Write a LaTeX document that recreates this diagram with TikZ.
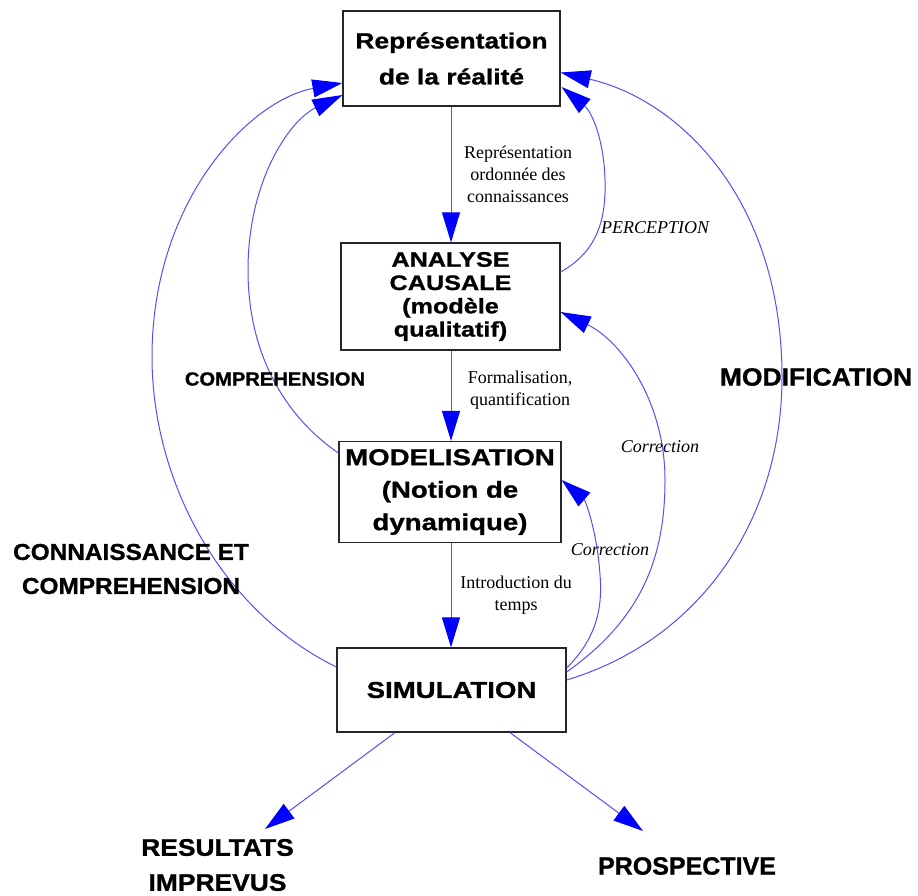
\documentclass[tikz,border=0pt]{standalone}
\usepackage{fontspec}
\setmainfont{Liberation Serif}
\newfontfamily\boxfont[FakeStretch=1.2,FakeBold=1]{Liberation Sans}
\newfontfamily\lblfont[FakeStretch=1.06,FakeBold=1]{Liberation Sans}
\newfontfamily\resfont[FakeStretch=1.1,FakeBold=1]{Liberation Sans}
\newfontfamily\prosfont[FakeStretch=1.0,FakeBold=1]{Liberation Sans}
\usetikzlibrary{arrows.meta,calc}
\definecolor{linkblue}{RGB}{80,80,250}
\definecolor{headblue}{RGB}{0,0,255}
\tikzset{
  box/.style={draw=black!85, line width=1.2pt, fill=white, inner sep=0pt, align=center},
  link/.style={draw=linkblue, line width=1pt, -{Triangle[length=30pt,width=18pt,color=headblue]}},
  note/.style={font=\fontsize{18}{22}\selectfont, align=center, inner sep=0pt},
  inote/.style={font=\itshape\fontsize{18}{22}\selectfont, inner sep=0pt},
  biglbl/.style={font=\lblfont\bfseries\fontsize{23}{34}\selectfont, align=center, inner sep=0pt},
}
\begin{document}
\begin{tikzpicture}[x=1pt,y=-1pt]
\fill[white] (0,0) rectangle (918,896);
\useasboundingbox (0,0) rectangle (918,896);

% boxes
\node[box, minimum width=217pt, minimum height=95pt,
  font=\boxfont\bfseries\fontsize{22}{36}\selectfont] (top) at (451.5,58.5) {Représentation\\de la réalité};
\node[box, minimum width=219pt, minimum height=107pt,
  font=\boxfont\bfseries\fontsize{21}{23.3}\selectfont] (ana) at (450.5,296.5) {ANALYSE\\CAUSALE\\(modèle\\qualitatif)};
\node[box, minimum width=222pt, minimum height=101pt,
  font=\boxfont\bfseries\fontsize{23}{32.5}\selectfont] (mod) at (450,492) {MODELISATION\\(Notion de\\dynamique)};
\node[box, minimum width=229pt, minimum height=84pt,
  font=\boxfont\bfseries\fontsize{23}{26}\selectfont] (sim) at (451.5,690) {SIMULATION};

% straight arrows
\draw[link] (top.south -| 451,0) -- (ana.north -| 451,0);
\draw[link] (ana.south -| 451,0) -- (mod.north -| 451,0);
\draw[link] (mod.south -| 451,0) -- (sim.north -| 451,0);

% left curves
\draw[link] ($(sim.west)+(0,-23)$) .. controls (220,610) and (152,480) .. (152,357)
  .. controls (152,200) and (250,100) .. ($(top.west)+(0,24.5)$);
\draw[link] ($(mod.west)+(0,-39)$) .. controls (290,420) and (248,360) .. (248,270)
  .. controls (248,180) and (290,120) .. ($(top.west)+(0,36.5)$);

% right curves
\draw[link] ($(ana.east)+(0,-24.5)$) .. controls (600,250) and (606,215) .. (605,180)
  .. controls (604,140) and (592,112) .. ($(top.east)+(1,28.5)$);
\draw[link] ($(sim.east)+(0,-10)$) .. controls (700,640) and (782,520) .. (782,377)
  .. controls (782,200) and (680,100) .. ($(top.east)+(0,14)$);
\draw[link] ($(sim.east)+(0,-18)$) .. controls (640,620) and (665,560) .. (665,480)
  .. controls (665,400) and (620,340) .. ($(ana.east)+(0,15.5)$);
\draw[link] ($(sim.east)+(0,-22)$) .. controls (595,640) and (603,610) .. (600,575)
  .. controls (597,530) and (585,500) .. ($(mod.east)+(0,-12)$);

% bottom arrows
\coordinate (resend) at (265,829);
\coordinate (prosend) at (643,831);
\draw[link] ($(sim.south)+(-56.5,0)$) -- (resend);
\draw[link] ($(sim.south)+(58.5,0)$) -- (prosend);

% small labels
\node[note] (l1) at (518,174) {Représentation\\ordonnée des\\connaissances};
\node[note] (l2) at (520,390) {Formalisation,\\quantification};
\node[note] (l3) at (516,595) {Introduction du\\temps};
\node[inote] (perc) at (655,228) {PERCEPTION};
\node[inote] (corr1) at (660,447) {Correction};
\node[inote] (corr2) at (610,550) {Correction};

% big labels
\node[font=\lblfont\bfseries\fontsize{19}{22}\selectfont, inner sep=0pt] (compr) at (275,379) {COMPREHENSION};
\node[biglbl] (conn) at (131,569) {CONNAISSANCE ET\\COMPREHENSION};
\node[font=\lblfont\bfseries\fontsize{25}{28}\selectfont, inner sep=0pt] (modif) at (816,377) {MODIFICATION};
\node[font=\resfont\bfseries\fontsize{24}{35}\selectfont, align=center, inner sep=0pt] (res) at (217.5,865) {RESULTATS\\IMPREVUS};
\node[font=\prosfont\bfseries\fontsize{25}{28}\selectfont, inner sep=0pt] (pros) at (687,866) {PROSPECTIVE};
\end{tikzpicture}
\end{document}
